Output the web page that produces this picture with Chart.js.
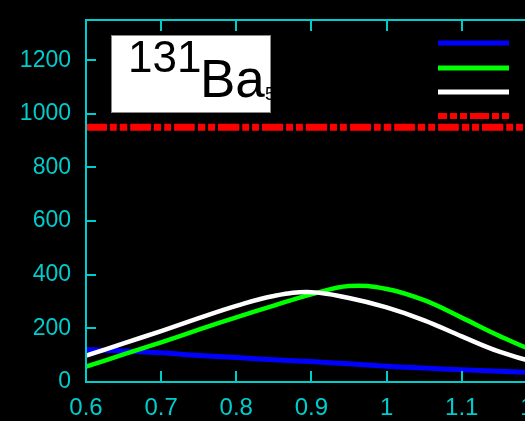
<!DOCTYPE html>
<html>
<head>
<meta charset="utf-8">
<script src="https://cdn.jsdelivr.net/npm/chart.js@4/dist/chart.umd.min.js"></script>
<style>
html, body { margin: 0; padding: 0; background: #000; overflow: hidden; }
</style>
</head>
<body>
<canvas id="myChart" width="640" height="421"></canvas>
<script>
const ctx = document.getElementById('myChart');

// values
const xValues   = [0.6, 0.65, 0.7, 0.75, 0.8, 0.85, 0.9, 0.95, 1.0, 1.05, 1.1, 1.15, 1.2, 1.25, 1.3];
const blueData  = [121, 116, 109, 99, 91, 83, 76, 68, 59, 52, 46, 40, 35, 31, 28];
const greenData = [57, 103, 148, 195, 241, 285, 327, 358, 347, 305, 240, 172, 112, 68, 40];
const whiteData = [98, 144, 190, 238, 284, 321, 335, 313, 278, 230, 170, 113, 72, 46, 30];
const redData   = [950, 950, 950, 950, 950, 950, 950, 950, 950, 950, 950, 950, 950, 950, 950];

const cyan = '#00cccc';
const redDash = [21, 3, 7, 3, 7, 3];

function pts(arr) {
    return xValues.map((x, i) => ({x: x, y: arr[i]}));
}

const data = {
    datasets: [
        { label: 'white', data: pts(whiteData), borderColor: '#ffffff', borderWidth: 4.5, order: 0 },
        { label: 'green', data: pts(greenData), borderColor: '#00ff00', borderWidth: 4.5, order: 1 },
        { label: 'blue',  data: pts(blueData),  borderColor: '#0000ff', borderWidth: 5, order: 2 },
        { label: 'red',   data: pts(redData),   borderColor: '#ff0000', borderWidth: 7, borderDash: redDash, borderCapStyle: 'butt', order: 3 }
    ]
};
data.datasets.forEach(d => {
    d.pointRadius = 0;
    d.fill = false;
    d.tension = 0.4;
});

// frame with inward ticks
const framePlugin = {
    id: 'frame',
    afterDatasetsDraw(chart) {
        const c = chart.ctx, a = chart.chartArea;
        const xs = chart.scales.x, ys = chart.scales.y;
        c.save();
        c.strokeStyle = cyan;
        c.lineWidth = 2;
        c.strokeRect(a.left, a.top, a.right - a.left, a.bottom - a.top);
        c.beginPath();
        xs.ticks.forEach(t => {
            const px = Math.round(xs.getPixelForValue(t.value));
            c.moveTo(px, a.bottom); c.lineTo(px, a.bottom - 11);
            c.moveTo(px, a.top); c.lineTo(px, a.top + 11);
        });
        ys.ticks.forEach(t => {
            const py = Math.round(ys.getPixelForValue(t.value));
            c.moveTo(a.left, py); c.lineTo(a.left + 10, py);
            c.moveTo(a.right, py); c.lineTo(a.right - 10, py);
        });
        c.stroke();
        c.restore();
    }
};

// 131Ba label box and legend samples
const boxPlugin = {
    id: 'box',
    afterDraw(chart) {
        const c = chart.ctx;
        c.save();
        c.fillStyle = '#ffffff';
        c.fillRect(111, 35, 160, 78);
        c.strokeStyle = '#888888';
        c.lineWidth = 1;
        c.strokeRect(111.5, 35.5, 159, 77);
        c.beginPath();
        c.rect(111, 35, 160, 78);
        c.clip();
        c.fillStyle = '#000000';
        c.textBaseline = 'alphabetic';
        c.font = '44px "Liberation Sans"';
        c.fillText('131', 128, 72);
        c.font = '53px "Liberation Sans"';
        c.fillText('Ba', 200, 97);
        c.font = '18px "Liberation Sans"';
        c.fillText('5', 265, 100);
        c.restore();

        // legend lines (no text shown)
        const rows = [
            {y: 43, color: '#0000ff', w: 5},
            {y: 68, color: '#00ff00', w: 5},
            {y: 92, color: '#ffffff', w: 5},
            {y: 116, color: '#ff0000', w: 6, dash: [19, 3, 7, 3, 7, 3], offset: 10}
        ];
        c.save();
        c.lineCap = 'butt';
        rows.forEach(r => {
            c.strokeStyle = r.color;
            c.lineWidth = r.w;
            c.setLineDash(r.dash || []);
            c.lineDashOffset = r.offset || 0;
            c.beginPath();
            c.moveTo(438, r.y);
            c.lineTo(509, r.y);
            c.stroke();
        });
        c.restore();
    }
};

const visibleChart = new Chart(ctx, {
    type: 'line',
    data: data,
    options: {
        responsive: false,
        animation: false,
        layout: { padding: { top: 20, right: 28, left: 0, bottom: 0 } },
        plugins: { legend: { display: false }, tooltip: { enabled: false } },
        scales: {
            x: {
                type: 'linear',
                min: 0.6,
                max: 1.3,
                grid: { display: false, drawTicks: false },
                border: { display: false },
                ticks: {
                    stepSize: 0.1,
                    color: cyan,
                    padding: 12,
                    font: { family: 'Liberation Sans', size: 24 },
                    callback: v => String(Number(v.toFixed(1)))
                },
                afterFit: s => { s.height = 39; s.paddingLeft = 0; s.paddingRight = 0; }
            },
            y: {
                min: 0,
                max: 1350,
                grid: { display: false, drawTicks: false },
                border: { display: false },
                ticks: {
                    stepSize: 200,
                    color: cyan,
                    padding: 15,
                    font: { family: 'Liberation Sans', size: 23 },
                    callback: v => String(v)
                },
                afterBuildTicks: s => { s.ticks = s.ticks.filter(t => t.value % 200 === 0); },
                afterFit: s => { s.width = 86; s.paddingTop = 0; s.paddingBottom = 0; }
            }
        }
    },
    plugins: [framePlugin, boxPlugin]
});
</script>
</body>
</html>
